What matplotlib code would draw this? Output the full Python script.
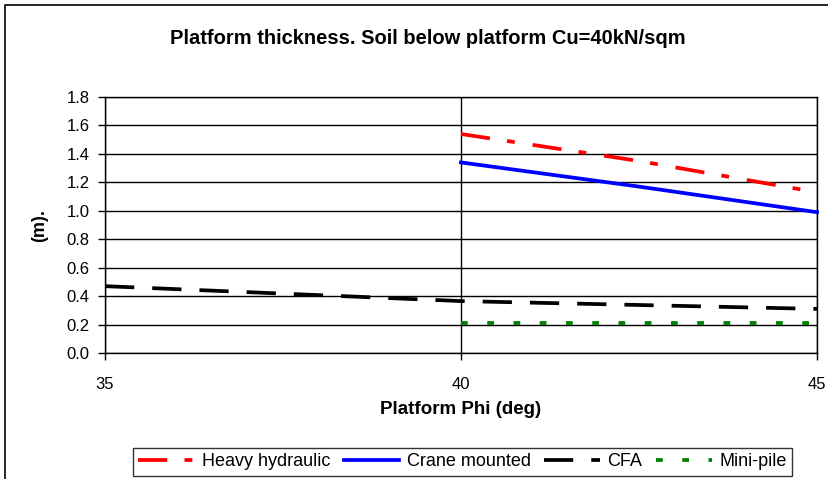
import matplotlib

matplotlib.use("Agg")

import matplotlib.pyplot as plt
from matplotlib.patches import Rectangle

plt.rcParams["font.family"] = ["Liberation Sans", "DejaVu Sans"]

TITLE = "Platform thickness. Soil below platform Cu=40kN/sqm"
X_LABEL = "Platform Phi (deg)"
Y_LABEL = "(m)."

heavy_phi = [40, 42.5, 45]
heavy_thk = [1.54, 1.35, 1.13]

crane_phi = [40, 42.5, 45]
crane_thk = [1.34, 1.17, 0.99]

cfa_phi = [35, 40, 45]
cfa_thk = [0.47, 0.365, 0.31]

mini_phi = [40, 45]
mini_thk = [0.21, 0.21]

x_ticks = [35, 40, 45]
y_ticks = [0.0, 0.2, 0.4, 0.6, 0.8, 1.0, 1.2, 1.4, 1.6, 1.8]

W, H = 829, 479
fig = plt.figure(figsize=(W / 100, H / 100), dpi=100)
ax = fig.add_axes([105 / W, 1 - 353 / H, (817 - 105) / W, (353 - 97) / H])

lw = 2.7
ax.plot(heavy_phi, heavy_thk, color="#FF0000", lw=lw, dashes=(7.8, 4.6, 2.1, 4.8),
        dash_capstyle="butt", label="Heavy hydraulic", clip_on=False, zorder=3)
ax.plot(crane_phi, crane_thk, color="#0000FF", lw=lw, label="Crane mounted",
        clip_on=False, zorder=3)
ax.plot(cfa_phi, cfa_thk, color="#000000", lw=lw, dashes=(7.8, 4.8),
        dash_capstyle="butt", label="CFA", clip_on=False, zorder=3)
ax.plot(mini_phi, mini_thk, color="#008000", lw=lw, dashes=(1.8, 5.2),
        dash_capstyle="butt", label="Mini-pile", clip_on=False, zorder=3)

ax.set_xlim(35, 45)
ax.set_ylim(0, 1.8)
ax.set_xticks(x_ticks)
ax.set_yticks(y_ticks)
ax.set_yticklabels([f"{v:.1f}" for v in y_ticks])
ax.tick_params(axis="both", labelsize=12, length=5, width=1, color="black")
ax.tick_params(axis="y", pad=6)
ax.tick_params(axis="x", pad=12)
ax.grid(True, color="black", lw=1, zorder=1)
for spine in ax.spines.values():
    spine.set_color("black")
    spine.set_linewidth(1)

ax.set_xlabel(X_LABEL, fontsize=13.5, fontweight="bold")
ax.set_ylabel(Y_LABEL, fontsize=13, fontweight="bold")
ax.xaxis.set_label_coords(0.5, -(401 - 353) / (353 - 97))
ax.yaxis.set_label_coords(-(105 - 48) / (817 - 105), 0.5)
fig.text(428 / W, 1 - 38 / H, TITLE, ha="center", va="center",
         fontsize=14.5, fontweight="bold")

# outer chart border
fig.patches.append(Rectangle((5 / W, -0.05), 1.2, 1 - 5 / H + 0.05,
                             transform=fig.transFigure, fill=False,
                             edgecolor="black", lw=1.2))

handles, labels = ax.get_legend_handles_labels()
leg = fig.legend(handles, labels, loc="upper left",
                 bbox_to_anchor=(133 / W, 1 - 448 / H), ncol=4, fontsize=13,
                 frameon=True, fancybox=False, edgecolor="black",
                 handlelength=3.1, handletextpad=0.4, columnspacing=0.75,
                 borderpad=0.3, borderaxespad=0)
leg.get_frame().set_linewidth(1)

fig.savefig("out.png", dpi=100, facecolor="white")
